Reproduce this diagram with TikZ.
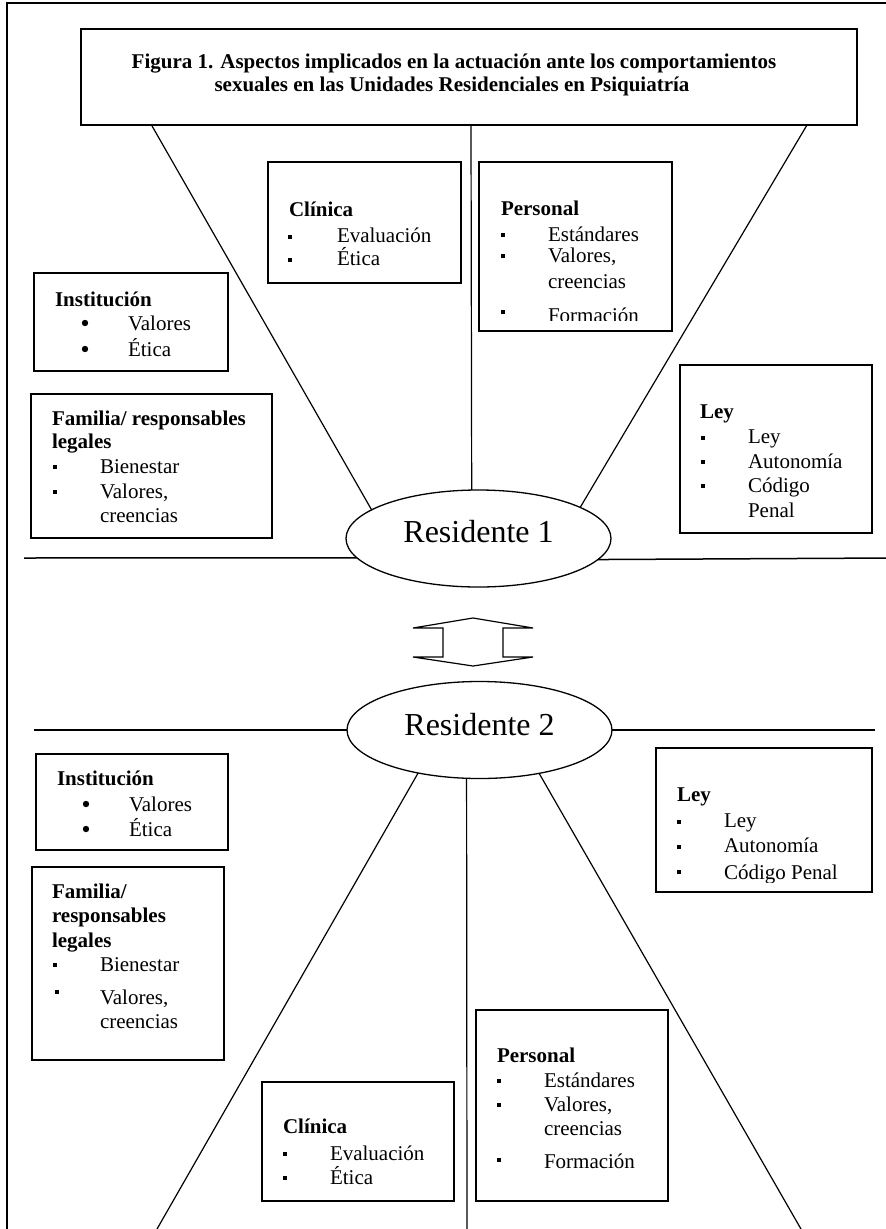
\documentclass[tikz,border=0pt]{standalone}
\usepackage{fontspec}
\setmainfont{Liberation Serif}
\usetikzlibrary{shapes.geometric}
\newcommand{\bulS}[2]{\fill (#1-1.6,#2-1.6) rectangle (#1+1.6,#2+1.6);}
\newcommand{\bulB}[2]{\fill (#1-2.4,#2-2.4) rectangle (#1+2.4,#2+2.4);}
\newcommand{\bulR}[2]{\fill (#1,#2) circle[radius=3.2];}
\begin{document}
\begin{tikzpicture}[x=1pt,y=-1pt,
  box/.style={draw, line width=1.8pt, rectangle, inner sep=0pt, outer sep=0pt},
  conn/.style={line width=1.2pt},
  hline/.style={line width=1.5pt},
  txt/.style={anchor=base west, inner sep=0pt, outer sep=0pt, font=\fontsize{21}{24}\selectfont},
  hd/.style={anchor=base west, inner sep=0pt, outer sep=0pt, font=\fontsize{21}{24}\selectfont\bfseries},
  ttl/.style={anchor=base, inner sep=0pt, outer sep=0pt, font=\fontsize{21}{24}\selectfont\bfseries},
  res/.style={draw, ellipse, line width=1.3pt, minimum width=265pt, minimum height=97pt, inner sep=0pt, outer sep=0pt, font=\fontsize{32}{36}\selectfont},
]
\useasboundingbox (0,0) rectangle (886,1229);
% outer frame (cut at right and bottom)
\draw[line width=1.8pt] (7,1235) -- (7,3) -- (890,3);

% title
\node[box, minimum width=776pt, minimum height=96pt] (title) at (469,77) {};
\node[ttl] (tl1) at (454,68) {Figura 1. Aspectos implicados en la actuación ante los comportamientos};
\node[ttl] (tl2) at (452,91) {sexuales en las Unidades Residenciales en Psiquiatría};

% residents
\node[res, text height=22pt, text depth=15pt] (r1) at (478.5,538.5) {Residente 1};
\node[res, text height=22pt, text depth=12pt] (r2) at (479.5,730) {Residente 2};

% upper connectors
\coordinate (l1a) at (151.5,125);
\coordinate (m1a) at (471,125);
\coordinate (rr1a) at (807,125);
\draw[conn] (l1a) -- (r1.165.4);
\draw[conn] (m1a) -- (r1.98.8);
\draw[conn] (rr1a) -- (r1.17.3);
\coordinate (h1l) at (24,558);
\coordinate (h1r) at (890,558);
\draw[hline] (h1l) -- (r1.189.1);
\draw[hline] (r1.350.9) -- (h1r);

% lower connectors
\coordinate (h2l) at (34,730);
\coordinate (h2r) at (875,730);
\draw[hline] (h2l) -- (r2.west);
\draw[hline] (r2.east) -- (h2r);
\coordinate (l2b) at (155.3,1232);
\coordinate (m2b) at (467,1232);
\coordinate (rr2b) at (802.7,1232);
\draw[conn] (r2.215.9) -- (l2b);
\draw[conn] (r2.255.3) -- (m2b);
\draw[conn] (r2.324.9) -- (rr2b);

% double block arrow
\draw[line width=1.2pt, line join=miter] (473,618) -- (533,628) -- (503,628) -- (503,657) -- (533,657)
  -- (473,666) -- (413,657) -- (443,657) -- (443,628) -- (413,628) -- cycle;

% ---------- upper boxes ----------
% Clinica
\node[box, minimum width=193pt, minimum height=121pt] (clin1) at (364.5,222.5) {};
\node[hd] (clin1h) at (289,216) {Clínica};
\bulS{290}{237}
\node[txt] (clin1a) at (337,242) {Evaluación};
\bulS{290}{260}
\node[txt] (clin1b) at (337,265) {Ética};

% Personal
\node[box, minimum width=193pt, minimum height=169pt] (pers1) at (575.5,246.5) {};
\node[hd] (pers1h) at (501,215) {Personal};
\bulS{503}{235}
\node[txt] (pers1a) at (548,241) {Estándares};
\bulS{503}{256}
\node[txt] (pers1b) at (548,262) {Valores,};
\node[txt] (pers1c) at (548,288) {creencias};
\bulB{503}{312}
\begin{scope}
\clip (470,300) rectangle (680,320);
\node[txt] (pers1d) at (548,322) {Formación};
\end{scope}

% Institucion
\node[box, minimum width=194pt, minimum height=98pt] (inst1) at (131,322) {};
\node[hd] (inst1h) at (55,306) {Institución};
\bulR{85}{323}
\node[txt] (inst1a) at (128,330) {Valores};
\bulR{85}{349}
\node[txt] (inst1b) at (128,356) {Ética};

% Familia
\node[box, minimum width=241pt, minimum height=144pt] (fam1) at (151.5,466) {};
\node[hd] (fam1h) at (52,425) {Familia/ responsables};
\node[hd] (fam1h2) at (52,448) {legales};
\bulS{55}{467}
\node[txt] (fam1a) at (100,473) {Bienestar};
\bulS{55}{492}
\node[txt] (fam1b) at (100,498) {Valores,};
\node[txt] (fam1c) at (100,522) {creencias};

% Ley
\node[box, minimum width=192pt, minimum height=168pt] (ley1) at (776,449) {};
\node[hd] (ley1h) at (700,418) {Ley};
\bulS{703}{438}
\node[txt] (ley1a) at (748,443) {Ley};
\bulS{703}{462}
\node[txt] (ley1b) at (748,468) {Autonomía};
\bulS{703}{486}
\node[txt] (ley1c) at (748,492) {Código};
\node[txt] (ley1d) at (748,517) {Penal};

% ---------- lower boxes ----------
% Institucion
\node[box, minimum width=192pt, minimum height=96pt] (inst2) at (132,802) {};
\node[hd] (inst2h) at (57,785) {Institución};
\bulR{86}{804}
\node[txt] (inst2a) at (129,811) {Valores};
\bulR{86}{829}
\node[txt] (inst2b) at (129,836) {Ética};

% Familia
\node[box, minimum width=192pt, minimum height=193pt] (fam2) at (128,963.5) {};
\node[hd] (fam2h) at (52,898) {Familia/};
\node[hd] (fam2h2) at (52,922) {responsables};
\node[hd] (fam2h3) at (52,947) {legales};
\bulS{55}{965}
\node[txt] (fam2a) at (100,971) {Bienestar};
\bulB{57}{992}
\node[txt] (fam2b) at (100,1004) {Valores,};
\node[txt] (fam2c) at (100,1028) {creencias};

% Clinica
\node[box, minimum width=192pt, minimum height=119pt] (clin2) at (358,1141.5) {};
\node[hd] (clin2h) at (283,1133) {Clínica};
\bulS{285}{1154}
\node[txt] (clin2a) at (330,1160) {Evaluación};
\bulS{285}{1178}
\node[txt] (clin2b) at (330,1184) {Ética};

% Ley
\node[box, minimum width=216pt, minimum height=144pt] (ley2) at (764,820) {};
\node[hd] (ley2h) at (677,801) {Ley};
\bulS{679}{822}
\node[txt] (ley2a) at (724,827) {Ley};
\bulS{679}{847}
\node[txt] (ley2b) at (724,852) {Autonomía};
\bulB{679}{872}
\begin{scope}
\clip (660,860) rectangle (870,882);
\node[txt] (ley2c) at (724,879) {Código Penal};
\end{scope}

% Personal
\node[box, minimum width=192pt, minimum height=191pt] (pers2) at (572,1105.5) {};
\node[hd] (pers2h) at (497,1062) {Personal};
\bulS{499}{1081}
\node[txt] (pers2a) at (544,1087) {Estándares};
\bulS{499}{1105}
\node[txt] (pers2b) at (544,1111) {Valores,};
\node[txt] (pers2c) at (544,1135) {creencias};
\bulB{499}{1160}
\node[txt] (pers2d) at (544,1168) {Formación};
\end{tikzpicture}
\end{document}
